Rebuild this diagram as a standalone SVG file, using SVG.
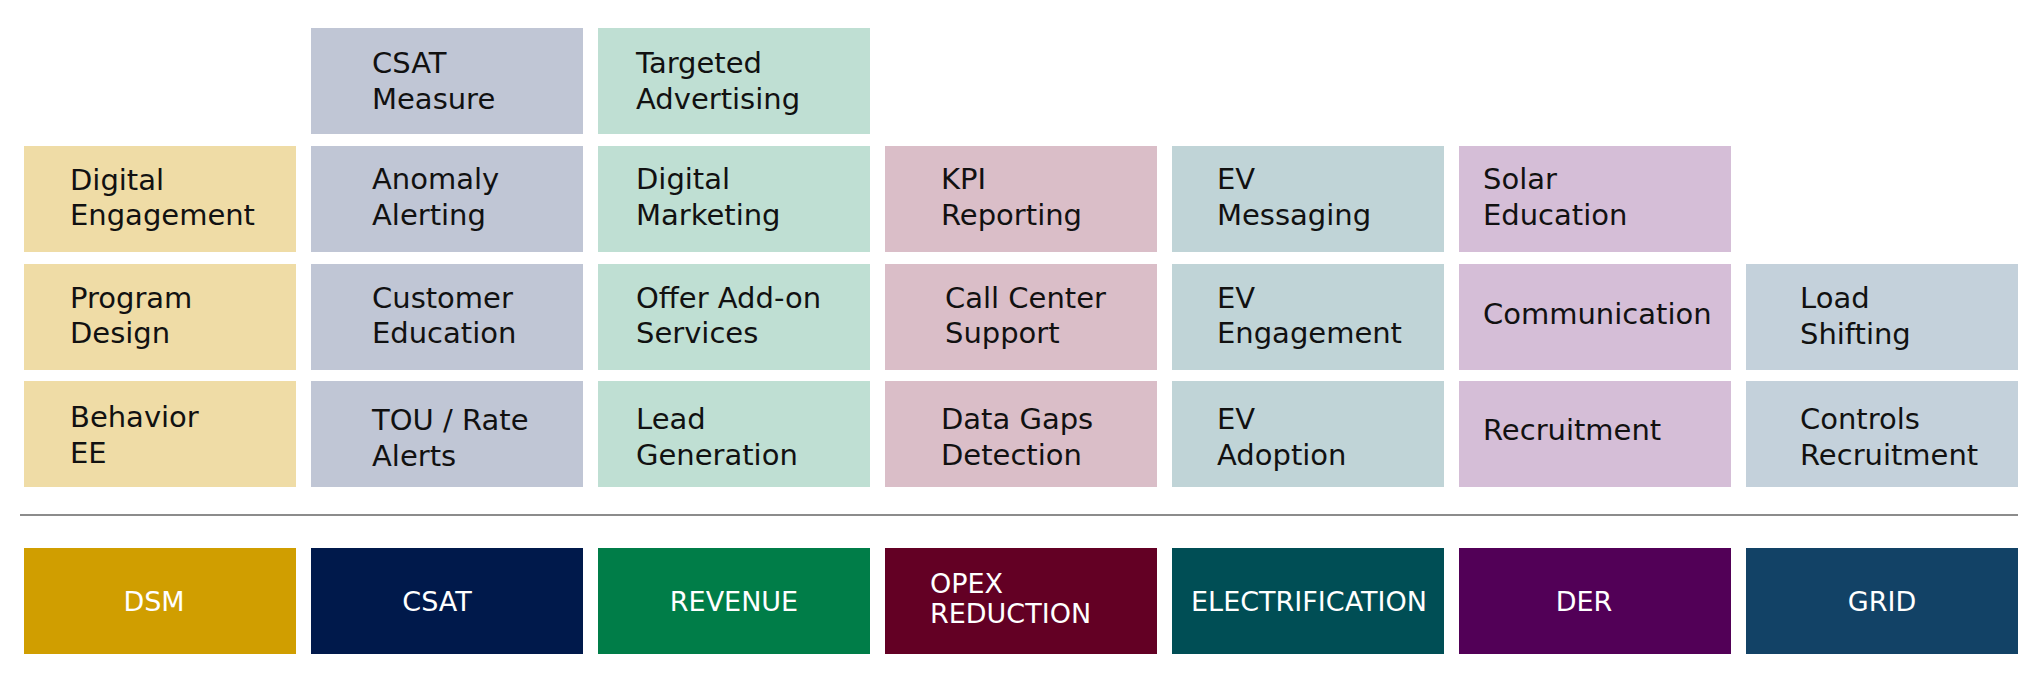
<svg xmlns="http://www.w3.org/2000/svg" width="2040" height="680" viewBox="0 0 2040 680">
<style>
  .t { font-family: "DejaVu Sans", "Liberation Sans", sans-serif; font-size: 29px; fill: #111111; }
  .b { font-family: "DejaVu Sans", "Liberation Sans", sans-serif; font-size: 27px; fill: #ffffff; }
  .bc { text-anchor: middle; }
  .c1 { fill: #EFDCA6; }
  .c2 { fill: #C0C6D5; }
  .c3 { fill: #BFDFD3; }
  .c4 { fill: #DABEC8; }
  .c5 { fill: #C0D4D7; }
  .c6 { fill: #D5BED7; }
  .c7 { fill: #C4D1DB; }
  .d1 { fill: #D09E00; }
  .d2 { fill: #00194B; }
  .d3 { fill: #007D48; }
  .d4 { fill: #630024; }
  .d5 { fill: #004E55; }
  .d6 { fill: #520057; }
  .d7 { fill: #124266; }
</style>
<rect width="2040" height="680" fill="#ffffff"/>

<!-- Row 1 -->
<g id="csat-measure"><rect class="c2" x="311" y="28" width="272" height="106"/><text class="t" x="372" y="73">CSAT</text><text class="t" x="372" y="109">Measure</text></g>
<g id="targeted-advertising"><rect class="c3" x="598" y="28" width="272" height="106"/><text class="t" x="636" y="73">Targeted</text><text class="t" x="636" y="109">Advertising</text></g>

<!-- Row 2 -->
<g id="digital-engagement"><rect class="c1" x="24" y="146" width="272" height="106"/><text class="t" x="70" y="190">Digital</text><text class="t" x="70" y="225">Engagement</text></g>
<g id="anomaly-alerting"><rect class="c2" x="311" y="146" width="272" height="106"/><text class="t" x="372" y="189">Anomaly</text><text class="t" x="372" y="225">Alerting</text></g>
<g id="digital-marketing"><rect class="c3" x="598" y="146" width="272" height="106"/><text class="t" x="636" y="189">Digital</text><text class="t" x="636" y="225">Marketing</text></g>
<g id="kpi-reporting"><rect class="c4" x="885" y="146" width="272" height="106"/><text class="t" x="941" y="189">KPI</text><text class="t" x="941" y="225">Reporting</text></g>
<g id="ev-messaging"><rect class="c5" x="1172" y="146" width="272" height="106"/><text class="t" x="1217" y="189">EV</text><text class="t" x="1217" y="225">Messaging</text></g>
<g id="solar-education"><rect class="c6" x="1459" y="146" width="272" height="106"/><text class="t" x="1483" y="189">Solar</text><text class="t" x="1483" y="225">Education</text></g>

<!-- Row 3 -->
<g id="program-design"><rect class="c1" x="24" y="264" width="272" height="106"/><text class="t" x="70" y="308">Program</text><text class="t" x="70" y="343">Design</text></g>
<g id="customer-education"><rect class="c2" x="311" y="264" width="272" height="106"/><text class="t" x="372" y="308">Customer</text><text class="t" x="372" y="343">Education</text></g>
<g id="offer-addon-services"><rect class="c3" x="598" y="264" width="272" height="106"/><text class="t" x="636" y="308">Offer Add-on</text><text class="t" x="636" y="343">Services</text></g>
<g id="call-center-support"><rect class="c4" x="885" y="264" width="272" height="106"/><text class="t" x="945" y="308">Call Center</text><text class="t" x="945" y="343">Support</text></g>
<g id="ev-engagement"><rect class="c5" x="1172" y="264" width="272" height="106"/><text class="t" x="1217" y="308">EV</text><text class="t" x="1217" y="343">Engagement</text></g>
<g id="communication"><rect class="c6" x="1459" y="264" width="272" height="106"/><text class="t" x="1483" y="324">Communication</text></g>
<g id="load-shifting"><rect class="c7" x="1746" y="264" width="272" height="106"/><text class="t" x="1800" y="308">Load</text><text class="t" x="1800" y="344">Shifting</text></g>

<!-- Row 4 -->
<g id="behavior-ee"><rect class="c1" x="24" y="381" width="272" height="106"/><text class="t" x="70" y="427">Behavior</text><text class="t" x="70" y="463">EE</text></g>
<g id="tou-rate-alerts"><rect class="c2" x="311" y="381" width="272" height="106"/><text class="t" x="372" y="430">TOU / Rate</text><text class="t" x="372" y="466">Alerts</text></g>
<g id="lead-generation"><rect class="c3" x="598" y="381" width="272" height="106"/><text class="t" x="636" y="429">Lead</text><text class="t" x="636" y="465">Generation</text></g>
<g id="data-gaps-detection"><rect class="c4" x="885" y="381" width="272" height="106"/><text class="t" x="941" y="429">Data Gaps</text><text class="t" x="941" y="465">Detection</text></g>
<g id="ev-adoption"><rect class="c5" x="1172" y="381" width="272" height="106"/><text class="t" x="1217" y="429">EV</text><text class="t" x="1217" y="465">Adoption</text></g>
<g id="recruitment"><rect class="c6" x="1459" y="381" width="272" height="106"/><text class="t" x="1483" y="440">Recruitment</text></g>
<g id="controls-recruitment"><rect class="c7" x="1746" y="381" width="272" height="106"/><text class="t" x="1800" y="429">Controls</text><text class="t" x="1800" y="465">Recruitment</text></g>

<!-- Separator -->
<g id="separator"><line x1="20" y1="515" x2="2018" y2="515" stroke="#666666" stroke-width="1.5"/></g>

<!-- Bottom categories -->
<g id="dsm"><rect class="d1" x="24" y="548" width="272" height="106"/><text class="b bc" x="154" y="611">DSM</text></g>
<g id="csat"><rect class="d2" x="311" y="548" width="272" height="106"/><text class="b bc" x="437" y="611">CSAT</text></g>
<g id="revenue"><rect class="d3" x="598" y="548" width="272" height="106"/><text class="b bc" x="734" y="611">REVENUE</text></g>
<g id="opex-reduction"><rect class="d4" x="885" y="548" width="272" height="106"/><text class="b" x="930" y="593" font-size="26">OPEX</text><text class="b" x="930" y="623" font-size="26">REDUCTION</text></g>
<g id="electrification"><rect class="d5" x="1172" y="548" width="272" height="106"/><text class="b bc" x="1309" y="611" font-size="28">ELECTRIFICATION</text></g>
<g id="der"><rect class="d6" x="1459" y="548" width="272" height="106"/><text class="b bc" x="1584" y="611">DER</text></g>
<g id="grid"><rect class="d7" x="1746" y="548" width="272" height="106"/><text class="b bc" x="1882" y="611">GRID</text></g>
</svg>
